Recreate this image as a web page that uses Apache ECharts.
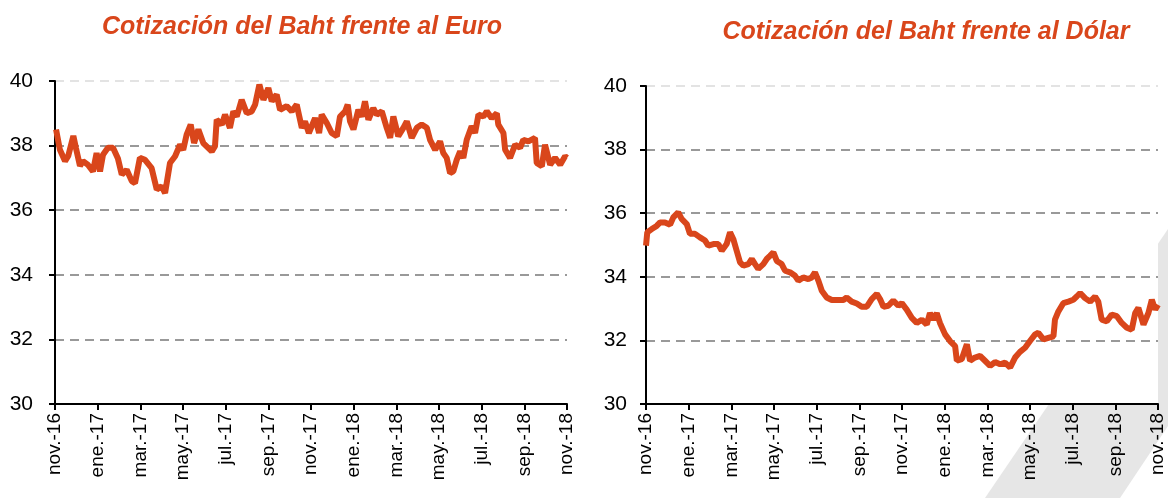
<!DOCTYPE html>
<html>
<head>
<meta charset="utf-8">
<script src="https://cdn.jsdelivr.net/npm/echarts@6/dist/echarts.min.js"></script>
<style>
html,body{margin:0;padding:0;background:#fff;}
#chart{width:1168px;height:498px;}
</style>
</head>
<body>
<div id="chart"></div>
<script>
// Tick labels (every two months, from nov.-16 to nov.-18)
const tickLabels = ['nov.-16','ene.-17','mar.-17','may.-17','jul.-17','sep.-17','nov.-17','ene.-18','mar.-18','may.-18','jul.-18','sep.-18','nov.-18'];

// Baht per Euro: x = months since 1 Nov 2016, y = rate
const eurX = [0.05,0.23,0.47,0.62,0.86,0.98,1.17,1.31,1.55,1.78,1.95,2.11,2.25,2.48,2.72,2.95,3.13,3.36,3.60,3.75,3.98,4.22,4.53,4.77,5.00,5.16,5.39,5.63,5.86,6.01,6.17,6.36,6.52,6.72,6.95,7.35,7.50,7.58,7.82,7.97,8.20,8.36,8.52,8.75,8.99,9.22,9.38,9.58,9.77,10.00,10.16,10.39,10.55,10.86,11.10,11.33,11.57,11.72,11.90,12.19,12.38,12.50,12.74,12.97,13.21,13.36,13.60,13.72,13.83,13.99,14.22,14.38,14.53,14.69,14.92,15.08,15.32,15.55,15.71,15.86,16.09,16.33,16.49,16.72,16.96,17.19,17.43,17.58,17.82,18.05,18.20,18.36,18.52,18.67,18.83,18.99,19.14,19.30,19.53,19.69,19.85,20.08,20.24,20.47,20.71,20.78,21.02,21.10,21.33,21.57,21.80,21.95,22.19,22.50,22.58,22.82,22.97,23.21,23.44,23.68,23.91,24.0];
const eurY = [38.5,37.87,37.52,37.68,38.3,37.93,37.37,37.52,37.4,37.2,37.77,37.2,37.72,37.93,37.93,37.6,37.1,37.25,36.9,36.84,37.62,37.56,37.3,36.64,36.74,36.53,37.46,37.67,38.03,37.87,38.34,38.65,38.08,38.5,38.08,37.82,37.98,38.8,38.65,38.96,38.55,39.06,38.9,39.42,39.0,39.06,39.27,39.89,39.42,39.78,39.37,39.58,39.11,39.22,39.06,39.27,38.55,38.75,38.39,38.85,38.39,38.96,38.7,38.39,38.29,38.9,39.06,39.27,38.75,38.5,39.11,38.9,39.37,38.8,39.16,38.96,39.06,38.55,38.24,38.9,38.29,38.55,38.75,38.24,38.55,38.65,38.55,38.18,37.87,38.13,37.77,37.62,37.15,37.2,37.56,37.82,37.62,38.18,38.6,38.39,38.96,38.9,39.06,38.85,39.0,38.65,38.39,37.87,37.62,38.03,37.93,38.18,38.13,38.24,37.46,37.36,38.03,37.41,37.62,37.41,37.67,37.62];

// Baht per US Dollar
const usdX = [0.0,0.06,0.27,0.50,0.66,0.89,1.13,1.28,1.51,1.67,1.91,2.06,2.30,2.53,2.77,2.92,3.16,3.39,3.55,3.78,3.94,4.09,4.25,4.41,4.56,4.80,4.96,5.11,5.26,5.50,5.66,5.81,5.97,6.13,6.36,6.52,6.75,6.99,7.14,7.37,7.61,7.77,7.92,8.08,8.24,8.47,8.71,9.02,9.25,9.41,9.64,9.88,10.11,10.35,10.58,10.82,10.97,11.13,11.36,11.59,11.83,11.99,12.22,12.46,12.69,12.93,13.16,13.31,13.47,13.63,13.78,14.02,14.25,14.49,14.57,14.80,15.04,15.19,15.42,15.66,15.89,16.13,16.36,16.60,16.83,17.07,17.30,17.53,17.77,18.00,18.24,18.39,18.63,18.86,19.10,19.17,19.33,19.56,19.80,20.03,20.19,20.35,20.58,20.82,21.05,21.20,21.36,21.60,21.83,22.07,22.30,22.54,22.77,22.93,23.08,23.32,23.55,23.71,23.87,24.0];
const usdY = [34.98,35.4,35.5,35.6,35.71,35.71,35.64,35.87,36.03,35.82,35.66,35.35,35.35,35.24,35.14,34.98,35.03,35.03,34.82,35.03,35.4,35.19,34.82,34.45,34.35,34.4,34.56,34.4,34.25,34.4,34.56,34.66,34.77,34.5,34.4,34.19,34.14,34.03,33.88,33.98,33.93,33.98,34.14,33.88,33.56,33.35,33.27,33.27,33.27,33.35,33.22,33.16,33.06,33.06,33.3,33.46,33.3,33.06,33.09,33.25,33.09,33.17,32.97,32.71,32.55,32.65,32.5,32.86,32.65,32.86,32.55,32.19,31.98,31.82,31.36,31.41,31.88,31.36,31.46,31.51,31.36,31.2,31.32,31.25,31.3,31.15,31.46,31.64,31.77,31.98,32.19,32.24,32.03,32.08,32.13,32.65,32.91,33.17,33.22,33.28,33.38,33.49,33.33,33.22,33.38,33.22,32.65,32.6,32.81,32.76,32.55,32.4,32.34,32.86,33.02,32.5,32.86,33.28,32.97,33.12];

const titles = ['Cotización del Baht frente al Euro', 'Cotización del Baht frente al Dólar'];

const FONT = '"Liberation Sans", Arial, sans-serif';
const LINE = '#D9461B';

function pairs(xs, ys){ return xs.map((x,i)=>[x, ys[i]]); }

function xAxisCfg(gi){
  return {
    type:'value', gridIndex:gi, min:0, max:24, interval:2,
    axisLine:{show:true, lineStyle:{color:'#000', width:2}},
    axisTick:{show:true, length:6, lineStyle:{color:'#000', width:2}},
    splitLine:{show:false},
    axisLabel:{rotate:90, fontSize:19, color:'#000', fontFamily:FONT, margin:9,
      formatter:(v)=>tickLabels[Math.round(v/2)] || ''}
  };
}
function yAxisCfg(gi, margin){
  return {
    type:'value', gridIndex:gi, min:30, max:40, interval:2,
    axisLine:{show:true, lineStyle:{color:'#000', width:2}},
    axisTick:{show:true, length:6, lineStyle:{color:'#000', width:2}},
    splitLine:{show:true, lineStyle:{type:[9,6], width:2, color:['#999','#999','#999','#999','#999','#e3e3e3']}},
    axisLabel:{fontSize:21, color:'#000', fontFamily:FONT, margin:margin}
  };
}

const chart = echarts.init(document.getElementById('chart'));
chart.setOption({
  animation:false,
  backgroundColor:'#fff',
  graphic:[{
    type:'polygon', z:-10, silent:true,
    shape:{points:[[985,498],[1120,498],[1168,426],[1168,229]]},
    style:{fill:'#e6e6e6'}
  }],
  title:[
    {text:titles[0], left:297, top:10, textAlign:'center',
     textStyle:{fontSize:25, fontWeight:'bold', fontStyle:'italic', color:'#D9461B', fontFamily:FONT}},
    {text:titles[1], left:921, top:15, textAlign:'center',
     textStyle:{fontSize:25, fontWeight:'bold', fontStyle:'italic', color:'#D9461B', fontFamily:FONT}}
  ],
  grid:[
    {left:55, top:81, width:512, height:323, show:true, backgroundColor:'#fff', borderWidth:0},
    {left:646, top:86, width:512, height:318, show:true, backgroundColor:'#fff', borderWidth:0}
  ],
  xAxis:[xAxisCfg(0), xAxisCfg(1)],
  yAxis:[yAxisCfg(0, 22), yAxisCfg(1, 19)],
  series:[
    {type:'line', xAxisIndex:0, yAxisIndex:0, data:pairs(eurX, eurY), showSymbol:false,
     lineStyle:{color:LINE, width:6}, itemStyle:{color:LINE}},
    {type:'line', xAxisIndex:1, yAxisIndex:1, data:pairs(usdX, usdY), showSymbol:false,
     lineStyle:{color:LINE, width:6}, itemStyle:{color:LINE}}
  ]
});
</script>
</body>
</html>
